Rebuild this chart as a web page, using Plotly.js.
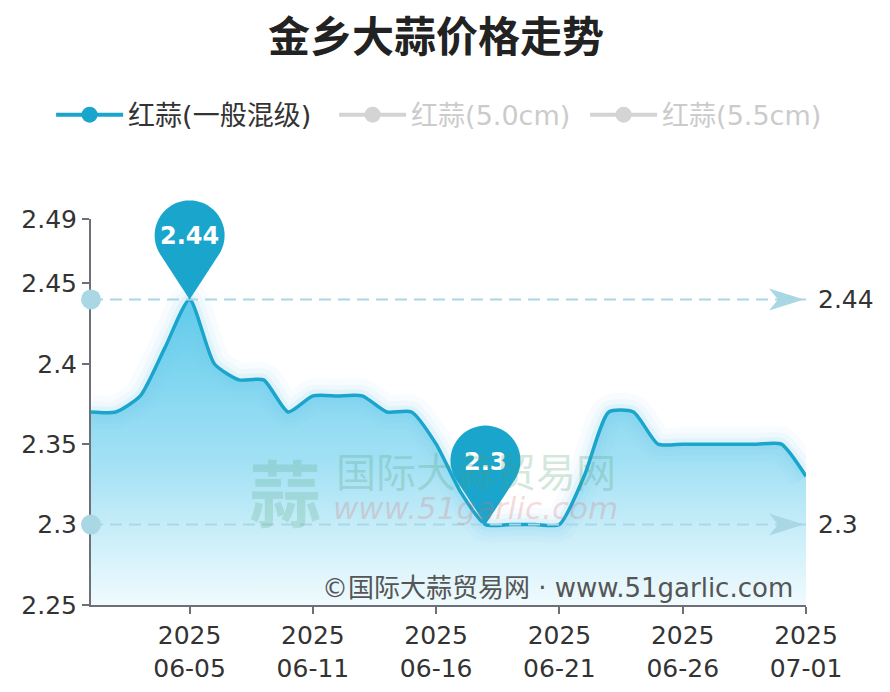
<!DOCTYPE html>
<html>
<head>
<meta charset="utf-8">
<script src="https://cdn.plot.ly/plotly-3.0.1.min.js"></script>
<style>
  body { margin: 0; background: #fff; }
  #chart { width: 890px; height: 692px; }
</style>
</head>
<body>
<div id="chart"></div>
<script>
// trading days shown on the category axis
var dates = [
  '2025-06-01', '2025-06-02', '2025-06-03', '2025-06-04', '2025-06-05',
  '2025-06-06', '2025-06-07', '2025-06-09', '2025-06-10', '2025-06-11',
  '2025-06-12', '2025-06-13', '2025-06-14', '2025-06-15', '2025-06-16',
  '2025-06-17', '2025-06-18', '2025-06-19', '2025-06-20', '2025-06-21',
  '2025-06-22', '2025-06-23', '2025-06-24', '2025-06-25', '2025-06-26',
  '2025-06-27', '2025-06-28', '2025-06-29', '2025-06-30', '2025-07-01'
];
// 红蒜(一般混级) price, yuan / jin
var prices = [
  2.37, 2.37, 2.38, 2.41, 2.44, 2.40, 2.39, 2.39, 2.37, 2.38,
  2.38, 2.38, 2.37, 2.37, 2.35, 2.32, 2.30, 2.30, 2.30, 2.30,
  2.33, 2.37, 2.37, 2.35, 2.35, 2.35, 2.35, 2.35, 2.35, 2.33
];
var seriesNames = ['红蒜(一般混级)', '红蒜(5.0cm)', '红蒜(5.5cm)'];
var yTicks = [2.25, 2.3, 2.35, 2.4, 2.45, 2.49];
var yRange = [2.25, 2.49];

var LINE = '#1aa5cc';
var MARK = '#a9d7e4';
var FONT = '"DejaVu Sans", "Noto Sans CJK SC", sans-serif';
var SMOOTH = 0.6;
var LEGEND_W = [201, 169, 160];

var xs = dates.map(function(d, i) { return i; });
var tickIdx = xs.filter(function(i) { return i % 5 === 4; });
var tickText = tickIdx.map(function(i) { return dates[i].slice(0, 4) + '<br>' + dates[i].slice(5); });

var maxVal = Math.max.apply(null, prices), maxIdx = prices.indexOf(maxVal);
var minVal = Math.min.apply(null, prices), minIdx = prices.indexOf(minVal);

// teardrop pin outline, pixels relative to the tip (y up)
function pinPath(h, r) {
  var a = Math.acos(r / h);
  var t1 = -Math.PI / 2 + a, t2 = 1.5 * Math.PI - a;
  var p = 'M0,0';
  for (var k = 0; k <= 40; k++) {
    var t = t1 + (t2 - t1) * k / 40;
    p += ' L' + (r * Math.cos(t)).toFixed(2) + ',' + (h + r * Math.sin(t)).toFixed(2);
  }
  return p + ' Z';
}

var traces = [
  { // area
    x: xs, y: prices, type: 'scatter', mode: 'lines',
    line: { shape: 'spline', smoothing: SMOOTH, width: 0 },
    fill: 'tozeroy',
    fillgradient: {
      type: 'vertical', start: yRange[0], stop: maxVal,
      colorscale: [[0, 'rgba(238,250,253,0.9)'], [0.45, 'rgba(160,224,244,0.95)'], [1, 'rgba(96,204,236,1)']]
    },
    showlegend: false, hoverinfo: 'skip'
  }
];
// soft glow round the line
[[34, 0.05], [22, 0.07], [12, 0.1]].forEach(function(g) {
  traces.push({
    x: xs, y: prices, type: 'scatter', mode: 'lines',
    line: { shape: 'spline', smoothing: SMOOTH, width: g[0], color: 'rgba(110,205,240,' + g[1] + ')' },
    showlegend: false, hoverinfo: 'skip'
  });
});
traces.push({
  x: xs, y: prices, type: 'scatter', mode: 'lines', name: seriesNames[0],
  line: { shape: 'spline', smoothing: SMOOTH, width: 3.5, color: LINE },
  showlegend: false
});
// legend entries
seriesNames.forEach(function(n, i) {
  traces.push({
    x: [null], y: [null], type: 'scatter', mode: 'lines+markers',
    name: i === 0 ? n : '<span style="color:#999">' + n + '</span>',
    visible: i === 0 ? true : 'legendonly',
    legendwidth: LEGEND_W[i],
    line: { color: i === 0 ? LINE : '#aaa', width: 4 },
    marker: { color: i === 0 ? LINE : '#aaa', size: 24 }
  });
});

var shapes = [], annotations = [];
[[maxIdx, maxVal], [minIdx, minVal]].forEach(function(m) {
  // mark line
  shapes.push({ type: 'line', xref: 'paper', yref: 'y', x0: 0, x1: 1, y0: m[1], y1: m[1],
    line: { color: MARK, width: 2, dash: '12px,7px' }, layer: 'above' });
  shapes.push({ type: 'circle', xref: 'paper', yref: 'y', xsizemode: 'pixel', ysizemode: 'pixel',
    xanchor: 0, yanchor: m[1], x0: -10, x1: 10, y0: -10, y1: 10,
    fillcolor: MARK, line: { width: 0 }, layer: 'above' });
  shapes.push({ type: 'path', xref: 'paper', yref: 'y', xsizemode: 'pixel', ysizemode: 'pixel',
    xanchor: 1, yanchor: m[1], path: 'M-2,0 L-37,11 L-28,0 L-37,-11 Z',
    fillcolor: MARK, line: { width: 0 }, layer: 'above' });
  annotations.push({ xref: 'paper', yref: 'y', x: 1, y: m[1], xanchor: 'left', xshift: 10,
    text: String(m[1]), showarrow: false, font: { size: 25, color: '#333' } });
  // mark point pin (paper y so it may rise above the plot area)
  var fy = (m[1] - yRange[0]) / (yRange[1] - yRange[0]);
  shapes.push({ type: 'path', xref: 'x', yref: 'paper', xsizemode: 'pixel', ysizemode: 'pixel',
    xanchor: m[0], yanchor: fy, path: pinPath(64, 35),
    fillcolor: LINE, line: { width: 0 }, layer: 'above' });
  annotations.push({ x: m[0], y: m[1], yshift: 63, text: '<b>' + m[1] + '</b>', showarrow: false,
    font: { size: 24, color: '#fff' } });
});

// watermark
annotations.push(
  { xref: 'paper', yref: 'paper', x: 0.271, y: 0.298, xanchor: 'center', yanchor: 'middle', text: '蒜', showarrow: false,
    font: { size: 72, color: 'rgba(80,165,120,0.22)', family: '"Noto Sans CJK SC"', weight: 700 } },
  { xref: 'paper', yref: 'paper', x: 0.538, y: 0.35, xanchor: 'center', yanchor: 'middle', text: '国际大蒜贸易网', showarrow: false,
    font: { size: 40, color: 'rgba(80,160,115,0.26)', family: '"Noto Sans CJK SC"' } },
  { xref: 'paper', yref: 'paper', x: 0.538, y: 0.251, xanchor: 'center', yanchor: 'middle', text: '<i>www.51garlic.com</i>', showarrow: false,
    font: { size: 31, color: 'rgba(215,115,115,0.26)' } },
  { xref: 'paper', yref: 'paper', x: 0.985, y: 0.044, xanchor: 'right', yanchor: 'middle', text: '©国际大蒜贸易网 · www.51garlic.com',
    showarrow: false, font: { size: 26, color: '#555' } }
);

var layout = {
  width: 890, height: 692,
  margin: { l: 91, r: 84, t: 219, b: 87 },
  paper_bgcolor: '#fff', plot_bgcolor: '#fff',
  font: { family: FONT, color: '#333', size: 25 },
  title: { text: '金乡大蒜价格走势', x: 436 / 890, xref: 'container', y: 1 - 37 / 692, yref: 'container',
    xanchor: 'center', yanchor: 'middle',
    font: { size: 42, color: '#222', weight: 700, family: '"Noto Sans CJK SC", sans-serif' } },
  showlegend: true,
  // left of the plot area and above it, so the row may use the full width
  legend: { orientation: 'h', x: -0.0558, xanchor: 'left', y: 1.269, yanchor: 'middle',
    itemwidth: 67, font: { size: 27, color: '#333' } },
  xaxis: {
    range: [0, xs.length - 1], tickvals: tickIdx, ticktext: tickText,
    showline: true, linecolor: '#6e7079', linewidth: 2,
    ticks: 'outside', ticklen: 7, tickwidth: 2, tickcolor: '#6e7079',
    showgrid: false, zeroline: false, fixedrange: true
  },
  yaxis: {
    range: yRange, tickvals: yTicks, ticktext: yTicks.map(String),
    showline: true, linecolor: '#6e7079', linewidth: 2,
    ticks: 'outside', ticklen: 7, tickwidth: 2, tickcolor: '#6e7079',
    showgrid: false, zeroline: false, fixedrange: true
  },
  shapes: shapes,
  annotations: annotations
};

Plotly.newPlot('chart', traces, layout, { displayModeBar: false, staticPlot: true });
</script>
</body>
</html>
